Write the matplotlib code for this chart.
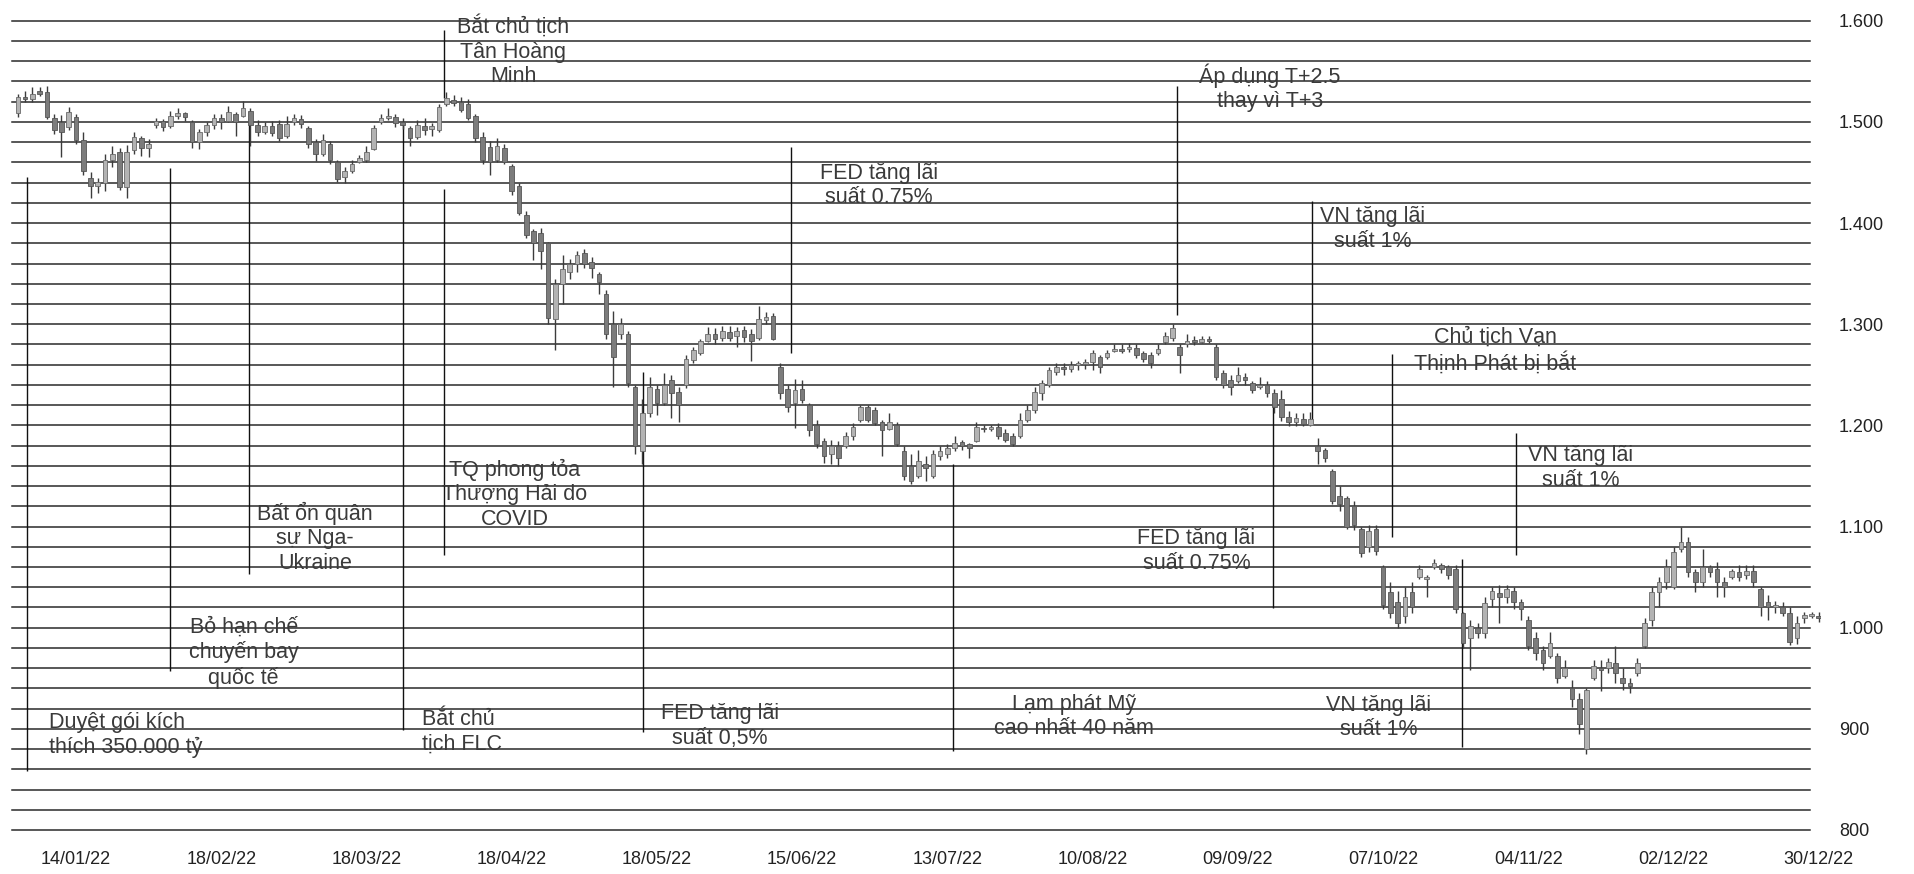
import matplotlib
matplotlib.use("Agg")
import matplotlib.pyplot as plt
import numpy as np

plt.rcParams['font.family'] = ['Liberation Sans', 'DejaVu Sans']

# ---------------- data (VN-Index 2022, daily candles, trading-day index) ----------------
opens = [1509,1525,1523,1531,1530,1504,1500,1495,1505,1482,1445,1437,1440,1462,1470,1436,1472,1484,1474,
         1497,1501,1496,1506,1509,1500,1480,1490,1497,1504,1501,1508,1506,1511,1497,1490,
         1496,1498,1486,1500,1503,1494,1480,1468,1478,1460,1446,1452,1460,1462,1473,1500,1504,1505,1500,1494,1485,1496,1493,
         1492,1518,1522,1520,1518,1506,1485,1475,1462,1474,1456,1437,1408,1392,1390,1380,1305,1340,1352,1360,
         1370,1362,1350,1330,1300,1290,1290,1238,1175,1212,1236,1222,1245,1233,1240,1265,1272,1283,1290,1286,
         1292,1288,1294,1290,1286,1304,1308,1258,1236,1222,1236,1220,1200,1185,1172,1180,1180,1190,1205,1218,1215,1203,
         1196,1200,1175,1160,1150,1162,1150,1170,1172,1178,1184,1182,1185,1197,1196,1198,1192,1190,1190,1205,1215,
         1232,1240,1253,1258,1256,1260,1261,1263,1268,1268,1274,1276,1276,1277,1272,1270,1272,1282,1286,1278,1280,1284,1282,1285,
         1278,1252,1245,1244,1248,1242,1238,1240,1232,1226,1208,1203,1206,1200,1180,1176,1155,1130,1128,1120,1098,1080,1098,
         1060,1035,1025,1012,1035,1050,1048,1060,1062,1060,1058,1015,990,1000,995,1028,1034,1030,1036,1025,1008,990,978,972,
         972,952,940,930,880,950,960,960,965,950,945,955,982,1008,1035,1045,1040,1078,1085,1055,1045,1060,1058,1045,1050,1055,
         1052,1056,1038,1025,1020,1020,1015,990,1010,1012,1012]
highs = [1528,1531,1535,1535,1536,1508,1507,1515,1508,1490,1451,1445,1468,1476,1474,1477,1490,1486,1483,
         1504,1503,1511,1514,1510,1502,1493,1500,1508,1508,1516,1510,1521,1514,1502,1500,
         1501,1502,1506,1508,1507,1496,1483,1488,1481,1462,1455,1462,1467,1476,1497,1508,1514,1508,1504,1496,1502,1504,1499,
         1518,1530,1527,1525,1523,1508,1490,1481,1484,1478,1458,1440,1412,1394,1395,1381,1345,1368,1365,1372,
         1374,1366,1352,1334,1313,1306,1293,1240,1226,1248,1240,1252,1250,1238,1270,1278,1285,1297,1296,1298,
         1298,1297,1298,1295,1318,1312,1311,1262,1240,1246,1245,1222,1205,1188,1186,1185,1193,1202,1220,1220,1218,1205,
         1212,1203,1180,1172,1176,1170,1176,1180,1182,1190,1186,1183,1203,1200,1200,1202,1196,1192,1212,1220,1238,
         1245,1258,1262,1262,1264,1264,1266,1275,1270,1275,1280,1280,1281,1280,1274,1273,1280,1292,1300,1280,1290,1288,1288,1288,
         1280,1255,1250,1258,1252,1244,1248,1244,1236,1235,1214,1212,1212,1213,1188,1178,1157,1140,1130,1125,1100,1102,1102,
         1062,1045,1036,1040,1045,1062,1052,1068,1064,1062,1062,1016,1008,1005,1030,1040,1042,1042,1040,1028,1012,996,982,996,
         975,968,948,935,940,968,968,970,982,960,950,970,1010,1040,1050,1068,1080,1100,1090,1058,1078,1062,1065,1050,1058,1062,
         1062,1062,1040,1032,1026,1025,1020,1012,1016,1016,1016]
lows = [1505,1520,1520,1526,1503,1488,1465,1492,1478,1448,1425,1430,1432,1455,1433,1425,1468,1466,1465,
        1494,1491,1494,1503,1501,1474,1473,1486,1493,1493,1500,1486,1505,1476,1486,1488,
        1486,1481,1484,1497,1494,1474,1461,1466,1458,1441,1440,1450,1459,1460,1472,1498,1502,1495,1493,1476,1483,1487,1486,
        1490,1516,1516,1510,1502,1480,1458,1448,1460,1458,1428,1408,1385,1364,1355,1300,1275,1320,1345,1352,
        1356,1346,1330,1285,1238,1285,1238,1172,1162,1208,1210,1220,1207,1203,1237,1262,1270,1282,1280,1283,
        1283,1278,1282,1264,1284,1300,1284,1226,1213,1197,1222,1190,1178,1163,1162,1160,1178,1186,1203,1203,1200,1170,
        1195,1180,1146,1142,1148,1145,1148,1166,1168,1175,1176,1168,1184,1193,1194,1187,1184,1180,1188,1203,1212,
        1225,1238,1250,1250,1253,1255,1256,1255,1252,1266,1273,1272,1273,1267,1263,1257,1270,1280,1283,1252,1278,1279,1281,1281,
        1245,1237,1230,1242,1240,1232,1236,1228,1212,1204,1199,1199,1199,1199,1162,1164,1122,1115,1098,1097,1070,1075,1072,
        1018,1010,1000,1005,1015,1048,1030,1058,1054,1048,1015,980,958,990,990,1020,1005,1024,1018,1008,978,968,958,970,
        945,950,922,895,875,948,937,955,945,938,935,952,980,1002,1020,1038,1038,1075,1050,1035,1040,1050,1030,1030,1048,1046,
        1048,1040,1012,1008,1015,1012,983,984,1005,1010,1006]
closes = [1525,1523,1528,1528,1505,1492,1490,1510,1482,1452,1437,1441,1462,1468,1436,1470,1485,1474,1478,
          1501,1495,1506,1509,1505,1480,1490,1497,1504,1500,1510,1500,1514,1497,1490,1496,
          1489,1484,1498,1504,1498,1478,1468,1482,1462,1444,1452,1458,1464,1470,1494,1504,1506,1499,1497,1484,1497,1492,1496,
          1515,1524,1519,1512,1504,1484,1462,1460,1476,1460,1432,1410,1388,1380,1372,1306,1340,1355,1360,1368,
          1360,1356,1342,1290,1268,1300,1242,1180,1212,1238,1222,1240,1232,1220,1266,1275,1283,1290,1285,1293,
          1286,1293,1287,1283,1305,1307,1285,1232,1218,1235,1225,1195,1182,1170,1180,1168,1190,1198,1218,1205,1202,1195,
          1203,1182,1150,1145,1165,1158,1172,1175,1178,1183,1180,1178,1198,1196,1198,1190,1186,1182,1205,1215,1233,
          1242,1255,1258,1256,1260,1261,1263,1272,1258,1272,1276,1274,1278,1270,1266,1262,1276,1288,1296,1270,1283,1282,1285,1283,
          1248,1240,1238,1250,1245,1235,1240,1232,1218,1208,1203,1207,1201,1206,1175,1168,1125,1122,1100,1102,1074,1096,1076,
          1022,1015,1005,1030,1020,1058,1050,1064,1058,1052,1018,985,1002,995,1024,1036,1030,1038,1025,1018,982,975,965,985,
          950,960,930,905,938,962,958,966,955,945,942,965,1005,1035,1045,1060,1075,1085,1055,1045,1060,1055,1045,1040,1056,1050,
          1056,1045,1020,1020,1022,1015,986,1005,1013,1014,1010]

tick_pos = [8, 28, 48, 68, 88, 108, 128, 148, 168, 188, 208, 228, 248]
tick_labels = ["14/01/22", "18/02/22", "18/03/22", "18/04/22", "18/05/22", "15/06/22", "13/07/22",
               "10/08/22", "09/09/22", "07/10/22", "04/11/22", "02/12/22", "30/12/22"]
y_major = [800, 900, 1000, 1100, 1200, 1300, 1400, 1500, 1600]
y_labels = ["800", "900", "1.000", "1.100", "1.200", "1.300", "1.400", "1.500", "1.600"]
grid_levels = list(range(800, 1601, 20))

# annotations: text, text x (index), text y (value), ha, line x (index), line y0, line y1
notes = [
    ("Duyệt gói kích\nthích 350.000 tỷ", 4.3, 894, "left", 1.25, 858, 1446),
    ("Bỏ hạn chế\nchuyến bay\nquốc tế", 31.1, 975, "center", 20.95, 957, 1454),
    ("Bất ổn quân\nsự Nga-\nUkraine", 40.9, 1089, "center", 31.8, 1053, 1504),
    ("Bắt chủ\ntịch FLC", 55.6, 897, "left", 53.0, 899, 1500),
    ("Bắt chủ tịch\nTân Hoàng\nMinh", 68.2, 1570, "center", 58.7, 1524, 1591),
    ("TQ phong tỏa\nThượng Hải do\nCOVID", 68.4, 1132, "center", 58.7, 1072, 1434),
    ("FED tăng lãi\nsuất 0,5%", 96.7, 903, "center", 86.1, 897, 1253),
    ("FED tăng lãi\nsuất 0.75%", 118.6, 1437, "center", 106.4, 1272, 1475),
    ("Lạm phát Mỹ\ncao nhất 40 năm", 145.4, 912, "center", 128.8, 878, 1162),
    ("Áp dụng T+2.5\nthay vì T+3", 172.4, 1534, "center", 159.6, 1309, 1536),
    ("FED tăng lãi\nsuất 0.75%", 162.3, 1076, "center", 172.8, 1019, 1228),
    ("VN tăng lãi\nsuất 1%", 186.6, 1394, "center", 178.2, 1204, 1422),
    ("Chủ tịch Vạn\nThịnh Phát bị bắt", 203.4, 1274, "center", 189.2, 1090, 1271),
    ("VN tăng lãi\nsuất 1%", 187.4, 911, "center", 198.8, 882, 1068),
    ("VN tăng lãi\nsuất 1%", 215.2, 1158, "center", 206.3, 1072, 1192),
]

# ---------------- figure ----------------
W, H = 1914, 874
fig = plt.figure(figsize=(W / 100, H / 100), dpi=100)
fig.patch.set_facecolor("white")
left_px, right_px, top_px, bot_px = 12, 1821, 20.8, 830
ax = fig.add_axes([left_px / W, (H - bot_px) / H, (right_px - left_px) / W, (bot_px - top_px) / H])
ax.set_xlim(-0.81, 248.3)
ax.set_ylim(800, 1600)
for s in ax.spines.values():
    s.set_visible(False)

# gridlines (end a little before the right edge, as in the scan)
for g in grid_levels:
    ax.axhline(g, xmin=0, xmax=0.994, color="#2a2a2a", lw=1.1, zorder=1, clip_on=False)

# candles
x = np.arange(len(closes))
o = np.array(opens, float); c = np.array(closes, float)
h = np.array(highs, float); l = np.array(lows, float)
up = c >= o
ax.vlines(x, l, h, color="#3c3c3c", lw=1.0, zorder=3)
bottom = np.minimum(o, c)
height = np.maximum(np.abs(c - o), 1.8)
ax.bar(x[up], height[up], bottom=bottom[up], width=0.64, color="#b3b3b3",
       edgecolor="#6a6a6a", linewidth=0.6, zorder=4)
ax.bar(x[~up], height[~up], bottom=bottom[~up], width=0.64, color="#7c7c7c",
       edgecolor="#555555", linewidth=0.6, zorder=4)

# annotations
for txt, tx, ty, ha, lx, ly0, ly1 in notes:
    ax.vlines(lx, ly0, ly1, color="#111111", lw=1.0, zorder=2)
    ax.text(tx, ty, txt, ha=ha, va="center", multialignment=ha, fontsize=15.5,
            color="#3a3a3a", linespacing=1.22, zorder=2)

# axes ticks
ax.set_xticks(tick_pos)
ax.set_xticklabels(tick_labels, fontsize=13, color="#222222")
ax.tick_params(axis="x", length=0, pad=15)
ax.yaxis.tick_right()
ax.set_yticks(y_major)
ax.set_yticklabels(y_labels, fontsize=13, color="#222222")
ax.tick_params(axis="y", length=0, pad=13)

fig.savefig("out.png", dpi=100, facecolor="white")
